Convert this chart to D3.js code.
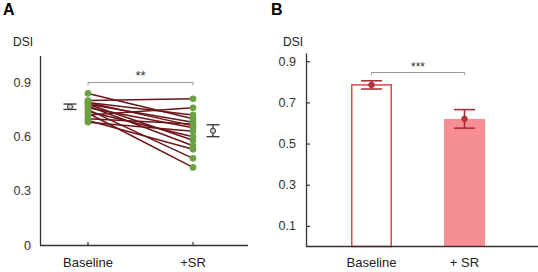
<!DOCTYPE html>
<html>
<head>
<meta charset="utf-8">
<script src="https://cdn.jsdelivr.net/npm/d3@7"></script>
<style>
  body { margin: 0; background: #fff; }
  svg { font-family: "Liberation Sans", Arial, sans-serif; }
</style>
</head>
<body>
<div id="chart"></div>
<script>
// donnees
var conditions = ["Baseline", "+SR"];
var baselineDSI = [0.84, 0.80, 0.79, 0.79, 0.78, 0.78, 0.77, 0.76, 0.75, 0.74, 0.73, 0.72, 0.70, 0.69, 0.68];
var srDSI       = [0.70, 0.81, 0.72, 0.66, 0.58, 0.68, 0.55, 0.65, 0.48, 0.60, 0.43, 0.76, 0.67, 0.53, 0.63];
var meanA = [0.766, 0.633];
var semA  = [0.015, 0.033];
var ticksA = [0, 0.3, 0.6, 0.9];

var barLabels = ["Baseline", "+ SR"];
var meanB = [0.785, 0.62];
var semB  = [0.02, 0.045];
var ticksB = [0.1, 0.3, 0.5, 0.7, 0.9];

var width = 538, height = 272;
var axisColor = "#333";

var svg = d3.select("#chart").append("svg")
    .attr("width", width)
    .attr("height", height);

svg.append("rect").attr("width", width).attr("height", height).attr("fill", "#fff");

// ---------- panel A ----------
var yA = d3.scaleLinear().domain([0, 1.05]).range([245, 55.5]);
var xA = d3.scalePoint().domain(conditions).range([88, 193]);

svg.append("text").attr("x", 3).attr("y", 15)
    .attr("font-size", 16).attr("font-weight", "bold").text("A");
svg.append("text").attr("x", 13).attr("y", 46)
    .attr("font-size", 12).attr("fill", "#222").text("DSI");

var gA = svg.append("g");

// y axis
var yAxisA = gA.append("g").attr("transform", "translate(40,0)")
    .call(d3.axisLeft(yA).tickValues(ticksA).tickSize(0).tickPadding(9)
      .tickFormat(function(d) { return d === 0 ? "0" : d3.format(".1f")(d); }));
yAxisA.select(".domain").attr("stroke", axisColor).attr("stroke-width", 1.3);
yAxisA.selectAll("text").attr("font-size", 12.5).attr("fill", "#333").attr("font-family", null);

// x axis
gA.append("line").attr("x1", 40).attr("x2", 248).attr("y1", 245.5).attr("y2", 245.5)
    .attr("stroke", axisColor).attr("stroke-width", 1.3);
gA.selectAll(".xtick").data(conditions).enter().append("line")
    .attr("x1", function(d) { return xA(d); }).attr("x2", function(d) { return xA(d); })
    .attr("y1", 245).attr("y2", 242).attr("stroke", axisColor).attr("stroke-width", 1.2);
gA.selectAll(".xlab").data(conditions).enter().append("text")
    .attr("x", function(d) { return xA(d); }).attr("y", 267)
    .attr("text-anchor", "middle").attr("font-size", 13).attr("fill", "#222")
    .text(function(d) { return d; });

// paired lines
var pairs = baselineDSI.map(function(v, i) { return [v, srDSI[i]]; });
gA.append("g").selectAll("line").data(pairs).enter().append("line")
    .attr("x1", xA("Baseline")).attr("x2", xA("+SR"))
    .attr("y1", function(d) { return yA(d[0]); })
    .attr("y2", function(d) { return yA(d[1]); })
    .attr("stroke", "#6b1519").attr("stroke-width", 1.5);

// dots
var dotGroup = gA.append("g").attr("fill", "#6aa142");
conditions.forEach(function(c, k) {
  var vals = k === 0 ? baselineDSI : srDSI;
  dotGroup.selectAll(".d" + k).data(vals).enter().append("circle")
    .attr("cx", xA(c)).attr("cy", function(d) { return yA(d); }).attr("r", 3.3);
});

// means +- sem
var meanOffset = [-18, 20];
conditions.forEach(function(c, k) {
  var cx = xA(c) + meanOffset[k];
  var g = gA.append("g").attr("stroke", "#333").attr("stroke-width", 1.3);
  g.append("line").attr("x1", cx).attr("x2", cx)
    .attr("y1", yA(meanA[k] + semA[k])).attr("y2", yA(meanA[k] - semA[k]));
  [meanA[k] + semA[k], meanA[k] - semA[k]].forEach(function(v) {
    g.append("line").attr("x1", cx - 6.5).attr("x2", cx + 6.5)
      .attr("y1", yA(v)).attr("y2", yA(v));
  });
  g.append("circle").attr("cx", cx).attr("cy", yA(meanA[k])).attr("r", 2.6)
    .attr("fill", "#ccc").attr("stroke-width", 1);
});

// significance bracket
var brA = gA.append("g").attr("stroke", "#999").attr("fill", "none").attr("stroke-width", 1);
brA.append("path").attr("d", "M" + xA("Baseline") + "," + 85.5 + "V" + 82.5 + "H" + xA("+SR") + "V" + 85.5);
gA.append("text").attr("x", (xA("Baseline") + xA("+SR")) / 2).attr("y", 80)
    .attr("text-anchor", "middle").attr("font-size", 13).attr("fill", "#333").text("**");

// ---------- panel B ----------
var yB = d3.scaleLinear().domain([0, 0.94]).range([246.5, 53]);
var xB = d3.scaleBand().domain(barLabels).range([304.5, 531.5]).paddingInner(0.559).paddingOuter(0.5);

svg.append("text").attr("x", 271).attr("y", 15)
    .attr("font-size", 16).attr("font-weight", "bold").text("B");
svg.append("text").attr("x", 283).attr("y", 46)
    .attr("font-size", 12).attr("fill", "#222").text("DSI");

var gB = svg.append("g");

var yAxisB = gB.append("g").attr("transform", "translate(306,0)")
    .call(d3.axisLeft(yB).tickValues(ticksB).tickSizeInner(-4).tickSizeOuter(0).tickPadding(10)
      .tickFormat(d3.format(".1f")));
yAxisB.select(".domain").attr("stroke", axisColor).attr("stroke-width", 1.3);
yAxisB.selectAll(".tick line").attr("stroke", axisColor).attr("stroke-width", 1.2);
yAxisB.selectAll("text").attr("font-size", 12.5).attr("fill", "#333").attr("font-family", null);

// bars
gB.append("rect")
    .attr("x", xB("Baseline") + 0.75).attr("width", xB.bandwidth() - 1.5)
    .attr("y", yB(meanB[0])).attr("height", yB(0) - yB(meanB[0]))
    .attr("fill", "#fff").attr("stroke", "#e0474d").attr("stroke-width", 1.5);
gB.append("rect")
    .attr("x", xB("+ SR")).attr("width", xB.bandwidth())
    .attr("y", yB(meanB[1])).attr("height", yB(0) - yB(meanB[1]))
    .attr("fill", "#f58f94");

gB.append("line").attr("x1", 306).attr("x2", 538).attr("y1", 246.5).attr("y2", 246.5)
    .attr("stroke", axisColor).attr("stroke-width", 1.3);

// error bars
barLabels.forEach(function(c, k) {
  var cx = xB(c) + xB.bandwidth() / 2;
  var g = gB.append("g").attr("stroke", "#a3282e").attr("stroke-width", 1.5);
  g.append("line").attr("x1", cx).attr("x2", cx)
    .attr("y1", yB(meanB[k] + semB[k])).attr("y2", yB(meanB[k] - semB[k]));
  [meanB[k] + semB[k], meanB[k] - semB[k]].forEach(function(v) {
    g.append("line").attr("x1", cx - 10.5).attr("x2", cx + 10.5)
      .attr("y1", yB(v)).attr("y2", yB(v));
  });
  g.append("circle").attr("cx", cx).attr("cy", yB(meanB[k])).attr("r", 2.8)
    .attr("fill", "#b8343a").attr("stroke-width", 0.8);
});

gB.selectAll(".xlab").data(barLabels).enter().append("text")
    .attr("x", function(d) { return xB(d) + xB.bandwidth() / 2; }).attr("y", 267)
    .attr("text-anchor", "middle").attr("font-size", 13).attr("fill", "#222")
    .text(function(d) { return d; });

var bx0 = xB("Baseline") + xB.bandwidth() / 2, bx1 = xB("+ SR") + xB.bandwidth() / 2;
gB.append("path").attr("d", "M" + bx0 + ",75V72.5H" + bx1 + "V75")
    .attr("stroke", "#999").attr("fill", "none").attr("stroke-width", 1);
gB.append("text").attr("x", (bx0 + bx1) / 2).attr("y", 71)
    .attr("text-anchor", "middle").attr("font-size", 12).attr("fill", "#333").text("***");
</script>
</body>
</html>
